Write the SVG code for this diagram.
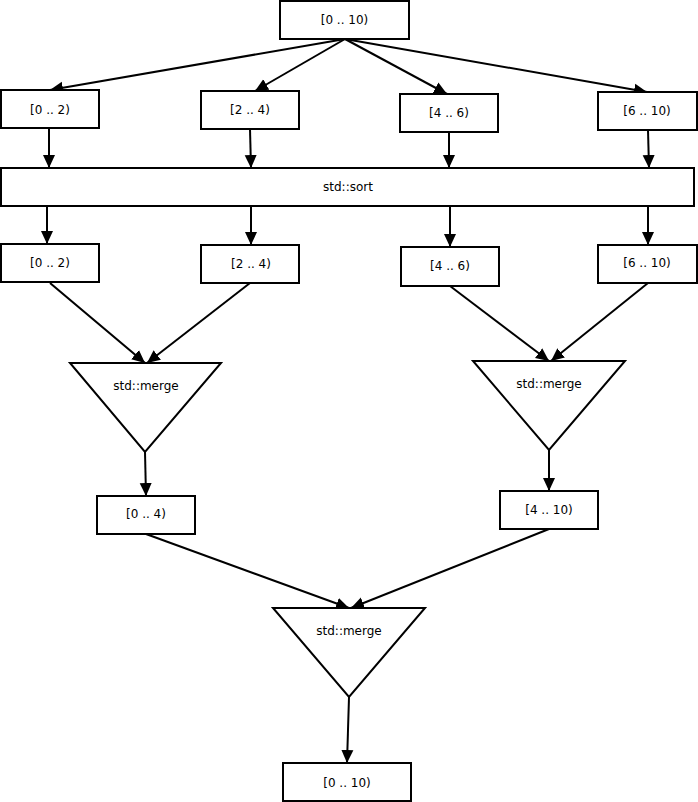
<svg xmlns="http://www.w3.org/2000/svg" width="698" height="802" viewBox="0 0 698 802">
<style>
.box{fill:#fff;stroke:#000;stroke-width:2}
.tri{fill:#fff;stroke:#000;stroke-width:2;stroke-linejoin:miter}
.e{fill:none;stroke:#000;stroke-width:2}
text{font-family:"DejaVu Sans",sans-serif;font-size:12px;fill:#000;text-anchor:middle;dominant-baseline:central}
</style>
<defs>
<marker id="ah" markerUnits="userSpaceOnUse" markerWidth="14" markerHeight="14" viewBox="0 0 14 14" refX="13" refY="7" orient="auto">
<path d="M0,1 L13,7 L0,13 Z" fill="#000"/>
</marker>
</defs>
<rect width="698" height="802" fill="#fff"/>
<g id="connectors">
<path class="e" marker-end="url(#ah)" d="M345,39 L50,90"/>
<path class="e" marker-end="url(#ah)" d="M345,39 L255,91"/>
<path class="e" marker-end="url(#ah)" d="M345,39 L447,94"/>
<path class="e" marker-end="url(#ah)" d="M345,39 L647,92"/>
<path class="e" marker-end="url(#ah)" d="M49,128 L49,168"/>
<path class="e" marker-end="url(#ah)" d="M250,129 L251,168"/>
<path class="e" marker-end="url(#ah)" d="M449,132 L449,168"/>
<path class="e" marker-end="url(#ah)" d="M648,130 L649,168"/>
<path class="e" marker-end="url(#ah)" d="M47,206 L47,244"/>
<path class="e" marker-end="url(#ah)" d="M251,206 L251,245"/>
<path class="e" marker-end="url(#ah)" d="M450,206 L450,247"/>
<path class="e" marker-end="url(#ah)" d="M648,206 L648,245"/>
<path class="e" marker-end="url(#ah)" d="M50,283 L145,363"/>
<path class="e" marker-end="url(#ah)" d="M250,283 L147,363"/>
<path class="e" marker-end="url(#ah)" d="M450,286 L549,361"/>
<path class="e" marker-end="url(#ah)" d="M648,283 L551,361"/>
<path class="e" marker-end="url(#ah)" d="M145,452 L146,496"/>
<path class="e" marker-end="url(#ah)" d="M549,450 L549,491"/>
<path class="e" marker-end="url(#ah)" d="M146,534 L349,608"/>
<path class="e" marker-end="url(#ah)" d="M549,529 L351,608"/>
<path class="e" marker-end="url(#ah)" d="M349,697 L347,763"/>
</g>
<g id="n-top"><rect class="box" x="280" y="1" width="129" height="38"/><text x="344.5" y="20">[0 .. 10)</text></g>
<g id="n-a1"><rect class="box" x="1" y="90" width="98" height="38"/><text x="50" y="110">[0 .. 2)</text></g>
<g id="n-b1"><rect class="box" x="201" y="91" width="98" height="38"/><text x="250" y="110">[2 .. 4)</text></g>
<g id="n-c1"><rect class="box" x="400" y="94" width="98" height="38"/><text x="449" y="113">[4 .. 6)</text></g>
<g id="n-d1"><rect class="box" x="598" y="92" width="99" height="38"/><text x="647" y="111">[6 .. 10)</text></g>
<g id="n-sort"><rect class="box" x="1" y="168" width="693" height="38"/><text x="348" y="187">std::sort</text></g>
<g id="n-a2"><rect class="box" x="1" y="244" width="98" height="38"/><text x="50" y="263">[0 .. 2)</text></g>
<g id="n-b2"><rect class="box" x="201" y="245" width="98" height="38"/><text x="251" y="264">[2 .. 4)</text></g>
<g id="n-c2"><rect class="box" x="401" y="247" width="98" height="39"/><text x="450" y="266">[4 .. 6)</text></g>
<g id="n-d2"><rect class="box" x="598" y="245" width="99" height="38"/><text x="647" y="263">[6 .. 10)</text></g>
<g id="n-m1"><polygon class="tri" points="70,363 221,363 145,452"/><text x="146" y="386">std::merge</text></g>
<g id="n-m2"><polygon class="tri" points="473,361 625,361 549,450"/><text x="549" y="384">std::merge</text></g>
<g id="n-r1"><rect class="box" x="97" y="496" width="98" height="38"/><text x="146" y="514">[0 .. 4)</text></g>
<g id="n-r2"><rect class="box" x="500" y="491" width="98" height="38"/><text x="549" y="510">[4 .. 10)</text></g>
<g id="n-m3"><polygon class="tri" points="273,608 425,608 349,697"/><text x="349" y="631">std::merge</text></g>
<g id="n-out"><rect class="box" x="283" y="763" width="128" height="38"/><text x="347" y="783">[0 .. 10)</text></g>
</svg>
